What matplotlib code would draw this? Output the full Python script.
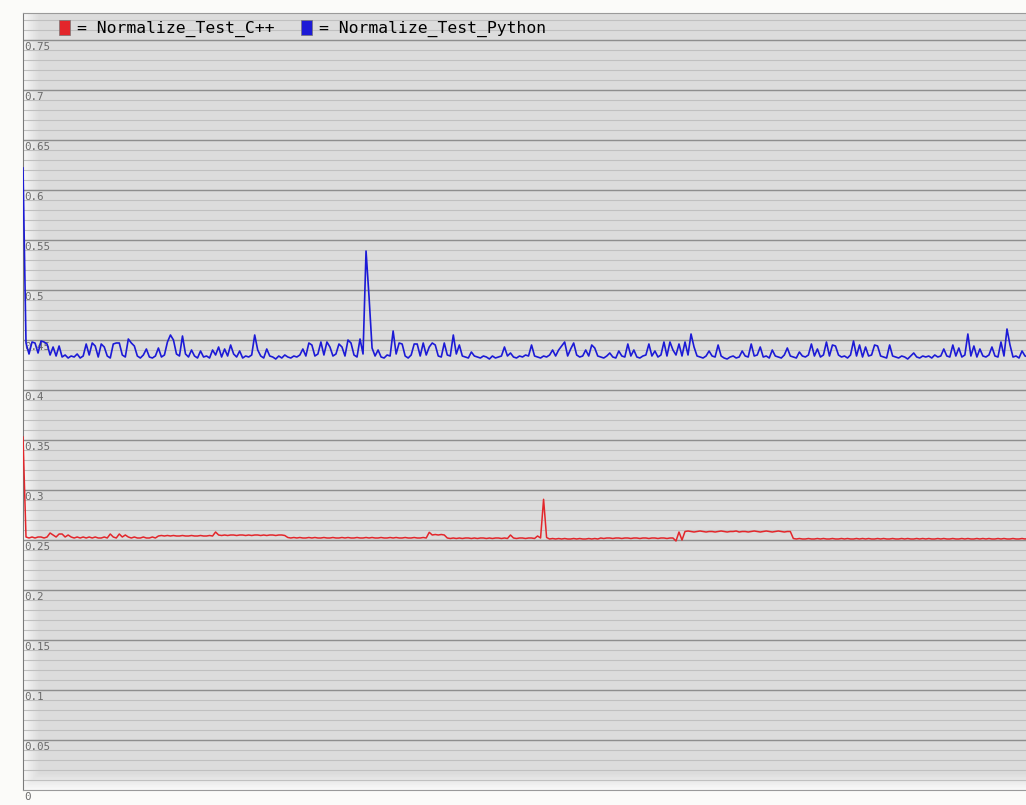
import numpy as np
from matplotlib import pyplot as plt
from matplotlib.patches import Patch

series_names = ['Normalize_Test_C++', 'Normalize_Test_Python']
series_colors = ['#e3262b', '#1c1ad6']

# one sample every few pixels
python_vals = [
    .622, .447, .436, .448, .447, .437, .449, .448, .446, .435,
    .443, .434, .444, .433, .435, .432, .434, .433, .436, .432,
    .434, .446, .435, .447, .444, .433, .446, .443, .434, .432,
    .446, .447, .447, .435, .433, .451, .447, .444, .434, .432,
    .435, .441, .433, .432, .434, .442, .433, .435, .448, .455,
    .450, .436, .434, .454, .436, .433, .440, .434, .432, .439,
    .433, .434, .432, .440, .435, .443, .433, .441, .434, .445,
    .436, .433, .439, .432, .434, .433, .435, .455, .440, .434,
    .432, .441, .434, .433, .431, .434, .432, .435, .433, .432,
    .434, .433, .435, .441, .434, .447, .445, .434, .436, .448,
    .435, .448, .443, .434, .436, .446, .443, .434, .450, .447,
    .435, .433, .451, .436, .539, .493, .442, .434, .440, .433,
    .432, .435, .434, .459, .436, .447, .446, .434, .432, .435,
    .446, .446, .434, .447, .435, .443, .447, .445, .434, .433,
    .447, .435, .434, .455, .436, .445, .434, .433, .432, .438,
    .434, .433, .432, .434, .433, .431, .434, .432, .433, .434,
    .443, .434, .437, .433, .432, .434, .433, .435, .434, .445,
    .434, .433, .432, .434, .433, .435, .440, .434, .440, .444,
    .448, .434, .441, .447, .435, .433, .434, .440, .434, .445,
    .442, .434, .433, .432, .434, .437, .433, .432, .439, .434,
    .433, .446, .434, .440, .433, .432, .434, .435, .446, .434,
    .439, .433, .435, .448, .434, .448, .440, .435, .446, .434,
    .448, .435, .456, .443, .434, .433, .432, .434, .439, .434,
    .433, .445, .434, .432, .431, .433, .434, .432, .433, .439,
    .434, .433, .446, .434, .435, .443, .433, .434, .432, .440,
    .434, .433, .432, .435, .442, .434, .433, .432, .438, .434,
    .433, .435, .446, .434, .441, .433, .435, .448, .434, .445,
    .444, .435, .433, .434, .432, .435, .449, .434, .445, .433,
    .443, .434, .435, .445, .444, .434, .433, .432, .445, .434,
    .433, .432, .434, .433, .431, .434, .437, .433, .432, .434,
    .433, .434, .432, .435, .433, .434, .441, .434, .433, .445,
    .434, .442, .433, .435, .456, .434, .444, .433, .441, .434,
    .433, .435, .443, .434, .433, .448, .434, .461, .445, .433,
    .434, .432, .439, .434, .433,
]

cpp_vals = [
    .353, .253, .252, .253, .252, .253, .253, .252, .253, .257,
    .255, .253, .256, .256, .253, .255, .253, .252, .253, .252,
    .253, .252, .253, .252, .253, .252, .252, .253, .252, .256,
    .253, .252, .256, .253, .255, .253, .252, .253, .252, .252,
    .253, .252, .252, .253, .252, .254, .2545, .254, .2545, .254,
    .2545, .254, .254, .2545, .254, .254, .2545, .254, .254, .2545,
    .254, .254, .2545, .254, .258, .255, .2545, .255, .2545, .255,
    .255, .2545, .255, .255, .2545, .255, .2545, .255, .255, .2545,
    .255, .2545, .255, .255, .2545, .255, .255, .2545, .2525, .252,
    .2525, .252, .2525, .252, .252, .2525, .252, .2525, .252, .252,
    .2525, .252, .252, .2525, .252, .252, .2525, .252, .2525, .252,
    .252, .2525, .252, .252, .2525, .252, .2525, .252, .252, .2525,
    .252, .252, .2525, .252, .2525, .252, .252, .2525, .252, .252,
    .2525, .252, .252, .2525, .252, .2577, .255, .2555, .255, .2555,
    .255, .252, .2515, .252, .2515, .252, .2515, .252, .252, .2515,
    .252, .2515, .252, .252, .2515, .252, .2515, .252, .252, .2515,
    .252, .2515, .255, .252, .2515, .252, .252, .2515, .252, .252,
    .2515, .254, .252, .2907, .2525, .251, .2515, .251, .2515, .251,
    .2515, .251, .251, .2515, .251, .2515, .251, .251, .2515, .251,
    .2515, .251, .252, .2515, .252, .252, .2515, .252, .252, .2515,
    .252, .252, .2515, .252, .252, .2515, .252, .252, .2515, .252,
    .252, .2515, .252, .252, .2515, .252, .252, .249, .258, .250,
    .2585, .259, .2585, .258, .2585, .259, .2585, .258, .2585, .2585,
    .258, .2585, .259, .2585, .258, .2585, .2585, .259, .258, .2585,
    .2585, .258, .2585, .259, .2585, .258, .2585, .259, .2585, .258,
    .2585, .259, .2585, .258, .2585, .2585, .2515, .251, .2515, .251,
    .251, .2515, .251, .251, .2515, .251, .2515, .251, .251, .2515,
    .251, .251, .2515, .251, .2515, .251, .251, .2515, .251, .2515,
    .251, .2515, .251, .251, .2515, .251, .2515, .251, .251, .2515,
    .251, .251, .2515, .251, .2515, .251, .251, .2515, .251, .2515,
    .251, .2515, .251, .251, .2515, .251, .2515, .251, .251, .2515,
    .251, .251, .2515, .251, .2515, .251, .251, .2515, .251, .2515,
    .251, .2515, .251, .251, .2515, .251, .2515, .251, .251, .2515,
    .251, .251, .2515, .251, .2515,
]

y_major = [0, 0.05, 0.1, 0.15, 0.2, 0.25, 0.3, 0.35, 0.4, 0.45, 0.5,
           0.55, 0.6, 0.65, 0.7, 0.75]

W, H = 1026, 805
fig = plt.figure(figsize=(W / 100, H / 100), dpi=100)
fig.patch.set_facecolor('#fbfbf9')
ax = fig.add_axes([23 / W, 15 / H, (W - 23) / W + 0.002, 777 / H])

n = len(python_vals)
x = np.arange(n)
ax.set_xlim(0, n - 1)
ax.set_ylim(0, 0.777)

# grey panel, lighter towards left and bottom edges
cols = np.linspace(0, 1, 600)
rows = np.linspace(0, 1, 300)
left = np.clip(cols / 0.015, 0, 1)
bottom = np.clip(rows / 0.02, 0, 1)
shade = 0.97 - 0.105 * np.minimum.outer(bottom, left)
ax.imshow(np.dstack([shade] * 3), extent=[0, 1, 0, 1], origin='lower',
          transform=ax.transAxes, aspect='auto', zorder=0)

for v in np.arange(0.01, 0.777, 0.01):
    ax.axhline(v, color='#c0c0c0', lw=0.8, zorder=1)
for v in y_major[1:]:
    ax.axhline(v, color='#8e8e8e', lw=1.0, zorder=1)
for v in y_major:
    ax.text(0.001, v - 0.002, f'{v:g}', transform=ax.get_yaxis_transform(),
            ha='left', va='top', fontsize=7.8, family='DejaVu Sans Mono',
            color='#6a6a6a', zorder=2, clip_on=False)

ax.plot(x, cpp_vals, color=series_colors[0], lw=1.1, zorder=3)
ax.plot(x, python_vals, color=series_colors[1], lw=1.2, zorder=3)

ax.set_xticks([])
ax.set_yticks([])
for side in ['top', 'bottom', 'left', 'right']:
    ax.spines[side].set_color('#9a9a9a')
ax.spines['left'].set_color('#7a7a7a')

handles = [Patch(facecolor=c, edgecolor='#777777', lw=0.5) for c in series_colors]
ax.legend(handles, ['= ' + s for s in series_names], ncol=2, frameon=False,
          loc='upper left', bbox_to_anchor=(57 / W, 1 - 18 / H),
          bbox_transform=fig.transFigure, prop={'family': 'DejaVu Sans Mono', 'size': 11.8},
          handlelength=0.65, handleheight=0.95, handletextpad=0.45,
          columnspacing=1.6, borderaxespad=0, borderpad=0.15)

plt.savefig('out.png', dpi=100, facecolor=fig.get_facecolor())
